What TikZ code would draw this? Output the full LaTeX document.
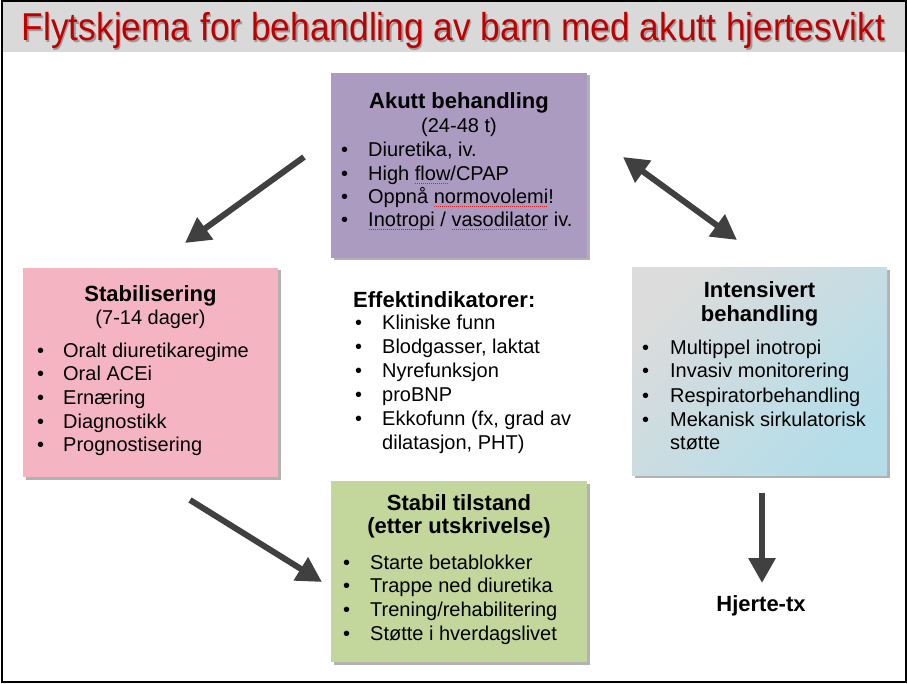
\documentclass[tikz,border=0pt]{standalone}
\usepackage{fontspec}
\setmainfont{Liberation Sans}
\usetikzlibrary{arrows.meta,shadows}
\definecolor{titlered}{HTML}{C00000}
\definecolor{bandgray}{HTML}{D9D9D9}
\definecolor{akuttpurple}{HTML}{AB9BC1}
\definecolor{stabpink}{HTML}{F5B4C2}
\definecolor{stabgreen}{HTML}{C3D69B}
\definecolor{intgray}{HTML}{DCDCDC}
\definecolor{intblue}{HTML}{B4DDE9}
\definecolor{arrowgray}{HTML}{404040}
\definecolor{splred}{HTML}{E02020}
\newlength\bw
\newsavebox\splbox
\newcommand\bl[1]{\makebox[\bw][l]{\textbullet}#1\par}
\newcommand\spl[1]{\sbox\splbox{#1}\rlap{\raisebox{-3.5pt}{\color{splred}\hbox to \wd\splbox{\leaders\hbox to 2pt{\hss\rule{1.2pt}{1pt}\hss}\hfill}}}\usebox\splbox}
\newcommand\blist[3]{\parbox[t]{260pt}{\setlength\parindent{0pt}\setlength\parskip{0pt}\setlength\bw{#1}\fontsize{20}{#2}\selectfont #3}}
\tikzset{
  panel/.style={draw=none, minimum width=#1, inner sep=0pt, drop shadow={shadow xshift=2.5pt, shadow yshift=-2.5pt, fill=black, opacity=0.3}},
  hd/.style={anchor=base, inner sep=0pt, font=\bfseries\fontsize{22}{24}\selectfont},
  sub/.style={anchor=base, inner sep=0pt, font=\fontsize{20}{22}\selectfont},
  lst/.style={anchor=base west, inner sep=0pt},
  bigarrow/.style={draw=arrowgray, line width=6pt, -{Triangle[width=26pt,length=25pt]}},
  dblarrow/.style={draw=arrowgray, line width=6pt, {Triangle[width=26pt,length=25pt]}-{Triangle[width=26pt,length=25pt]}}
}
\begin{document}
\begin{tikzpicture}[x=1pt,y=-1pt]
\useasboundingbox (0,0) rectangle (907,684);
% frame and title band
\fill[white] (0,0) rectangle (907,684);
\fill[bandgray] (2,2) rectangle (905,52);
\draw[line width=2pt, black] (1.5,1.5) rectangle (905.5,682);
\node[anchor=base, inner sep=0pt, text=black!55, opacity=0.6, font=\fontsize{35.3}{40}\selectfont] (titleshadow) at (455,42.5) {\scalebox{1}[1.1]{Flytskjema for behandling av barn med akutt hjertesvikt}};
\node[anchor=base, inner sep=0pt, text=titlered, font=\fontsize{35.3}{40}\selectfont] (title) at (453.5,41) {\scalebox{1}[1.1]{Flytskjema for behandling av barn med akutt hjertesvikt}};

% panels
\node[panel=256pt, minimum height=185pt, fill=akuttpurple] (akutt) at (459,165.5) {};
\node[panel=255pt, minimum height=209pt, fill=stabpink] (stab) at (150.5,372.5) {};
\node[panel=255pt, minimum height=207pt, top color=intgray, bottom color=intblue, shading angle=45] (intens) at (759.5,371.5) {};
\node[panel=256pt, minimum height=181pt, fill=stabgreen] (stabil) at (459,571.5) {};

% Akutt behandling
\node[hd] (akH) at (459,109) {Akutt behandling};
\node[sub] (akS) at (459,132.5) {(24-48 t)};
\node[lst] (akL) at (341,157) {\blist{27pt}{23.3pt}{%
\bl{Diuretika, iv.}
\bl{High \spl{flow}/CPAP}
\bl{Oppnå \spl{normovolemi}!}
\bl{\spl{Inotropi} / \spl{vasodilator} iv.}}};

% Stabilisering
\node[hd] (stH) at (150.5,302) {Stabilisering};
\node[sub] (stS) at (150.5,325) {(7-14 dager)};
\node[lst] (stL) at (37,357) {\blist{26pt}{23.7pt}{%
\bl{Oralt diuretikaregime}
\bl{Oral ACEi}
\bl{Ernæring}
\bl{Diagnostikk}
\bl{Prognostisering}}};

% Intensivert behandling
\node[hd] (inH1) at (759.5,298) {Intensivert};
\node[hd] (inH2) at (759.5,321.5) {behandling};
\node[lst] (inL) at (642,354) {\blist{28pt}{24pt}{%
\bl{Multippel inotropi}
\bl{Invasiv monitorering}
\bl{Respiratorbehandling}
\bl{Mekanisk sirkulatorisk}
\hspace*{\bw}støtte\par}};

% Stabil tilstand
\node[hd] (sbH1) at (459,510) {Stabil tilstand};
\node[hd] (sbH2) at (459,533.5) {(etter utskrivelse)};
\node[lst] (sbL) at (343,569) {\blist{27pt}{23.7pt}{%
\bl{Starte betablokker}
\bl{Trappe ned diuretika}
\bl{Trening/rehabilitering}
\bl{Støtte i hverdagslivet}}};

% Effektindikatorer
\node[anchor=base west, inner sep=0pt, font=\bfseries\fontsize{22}{24}\selectfont] (efH) at (353,308) {Effektindikatorer:};
\node[lst] (efL) at (355,330) {\blist{27pt}{24pt}{%
\bl{Kliniske funn}
\bl{Blodgasser, laktat}
\bl{Nyrefunksjon}
\bl{proBNP}
\bl{Ekkofunn (fx, grad av}
\hspace*{\bw}dilatasjon, PHT)\par}};

% Hjerte-tx
\node[hd] (htx) at (761,611) {Hjerte-tx};

% arrows
\coordinate (a1s) at (304,157);
\coordinate (a1e) at (185,243);
\coordinate (a2s) at (623,157);
\coordinate (a2e) at (737,240);
\coordinate (a3s) at (190,500);
\coordinate (a3e) at (322,582);
\coordinate (a4s) at (762,493);
\coordinate (a4e) at (762,583);
\draw[bigarrow] (a1s) -- (a1e);
\draw[dblarrow] (a2s) -- (a2e);
\draw[bigarrow] (a3s) -- (a3e);
\draw[bigarrow] (a4s) -- (a4e);
\end{tikzpicture}
\end{document}
